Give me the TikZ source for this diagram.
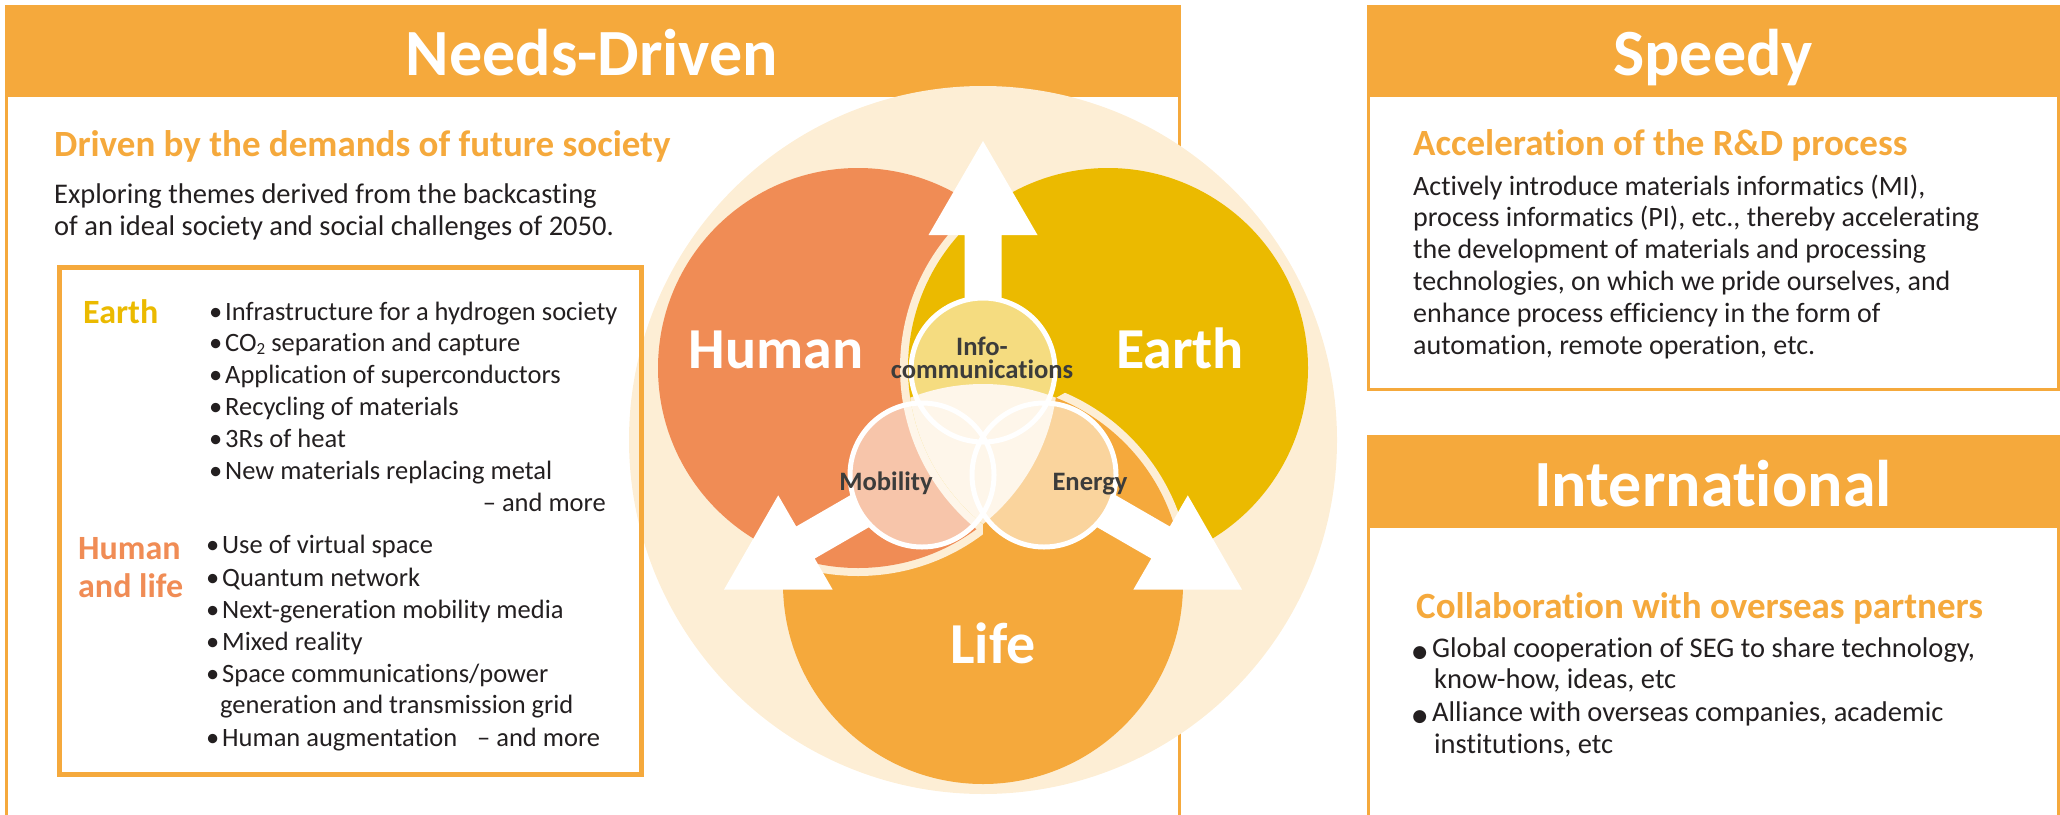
\documentclass[tikz,border=0pt]{standalone}
\usepackage{fontspec}
\setmainfont{Carlito}[Ligatures=NoCommon]
\newfontfamily\symfont{DejaVu Sans}

\definecolor{needsorange}{HTML}{F5A93C}
\definecolor{earthyellow}{HTML}{EBBA00}
\definecolor{humanorange}{HTML}{F08C55}
\definecolor{lifeorange}{HTML}{F5A93C}
\definecolor{halobeige}{HTML}{FDEED5}
\definecolor{bodyink}{HTML}{231F20}
\definecolor{labelink}{HTML}{3C3C3B}

\newcommand{\bul}{\llap{•\hspace{3pt}}}
\newcommand{\bigbul}{\llap{{\symfont\fontsize{17}{17}\selectfont ●}\hspace{5pt}}}

\tikzset{
  headtitle/.style={anchor=base, text=white, inner sep=0pt,
    font=\fontsize{66}{70}\selectfont\bfseries},
  subhead/.style={anchor=base west, text=needsorange, inner sep=0pt,
    font=\fontsize{37}{40}\selectfont\bfseries},
  bodyline/.style={anchor=base west, text=bodyink, inner sep=0pt,
    font=\fontsize{26.5}{30}\selectfont},
  bodywide/.style={bodyline, font=\fontsize{28.5}{30}\selectfont},
  topic/.style={anchor=base west, inner sep=0pt,
    font=\fontsize{34}{38}\selectfont\bfseries},
  bigword/.style={anchor=base, text=white, inner sep=0pt,
    font=\fontsize{58}{60}\selectfont\bfseries},
  smallword/.style={anchor=base, text=labelink, inner sep=0pt,
    font=\fontsize{26.6}{28}\selectfont\bfseries},
  panel/.style={draw=needsorange, line width=3pt},
}

\begin{document}
\begin{tikzpicture}[x=1pt,y=-1pt]
        \useasboundingbox (0,0) rectangle (2060,814);
        \clip (0,0) rectangle (2060,814);
        % panels
        \fill[needsorange] (5,5) rectangle (1181,97);
        \draw[panel] (6.5,6.5) rectangle (1179.5,840);
        \fill[needsorange] (1367,5) rectangle (2060,97);
        \draw[panel] (1368.5,6.5) rectangle (2058.5,389.5);
        \fill[needsorange] (1367,435) rectangle (2060,528);
        \draw[panel] (1368.5,436.5) rectangle (2058.5,840);

        % the three spheres
        \coordinate (hub) at (983,440);
        \coordinate (human) at (858,368);
        \coordinate (earth) at (1108,368);
        \coordinate (life) at (983,584);
        \coordinate (info) at (983,370);
        \coordinate (mobility) at (922,475);
        \coordinate (energy) at (1044,475);
        \fill[halobeige] (hub) circle (354);
        \fill[halobeige] (life) circle (208);
        \fill[lifeorange] (life) circle (200);
        \fill[halobeige] (human) circle (208);
        \fill[humanorange] (human) circle (200);
        \fill[halobeige] (earth) circle (208);
        \fill[earthyellow] (earth) circle (200);
        \begin{scope}
                \clip (hub) -- (983,900) -- (1500,900) -- (1500,142) -- cycle;
                \fill[halobeige] (life) circle (208);
                \fill[lifeorange] (life) circle (200);
        \end{scope}
        \begin{scope}
                \clip (human) circle (200);
                \clip (earth) circle (200);
                \fill[halobeige] (life) circle (200);
        \end{scope}

        % arrows
        \foreach \turn in {0,120,-120}
                \fill[white, shift={(hub)}, rotate=\turn] (-18.5,-141) -- (-18.5,-205) -- (-54.5,-205)
                        -- (0,-299) -- (54.5,-205) -- (18.5,-205) -- (18.5,-141) -- cycle;

        % small circles
        \fill[white, fill opacity=.5] (info) circle (72) (mobility) circle (72) (energy) circle (72);
        \draw[white, line width=5pt] (info) circle (72) (mobility) circle (72) (energy) circle (72);

        \node[bigword] (humanword) at (776,368) {Human};
        \node[bigword] (earthword) at (1180,368) {Earth};
        \node[bigword] (lifeword) at (993,663) {Life};
        \node[smallword] (infoword) at (982,355) {Info-};
        \node[smallword] (commword) at (982,378) {communications};
        \node[smallword] (mobword) at (886,490) {Mobility};
        \node[smallword] (energyword) at (1090,490) {Energy};

        % left panel
        \node[headtitle] (needs) at (592,75) {Needs-Driven};
        \node[subhead] (demand) at (54,156) {Driven by the demands of future society};
        \node[bodywide] (explore1) at (54,203) {Exploring themes derived from the backcasting};
        \node[bodywide] (explore2) at (54,235) {of an ideal society and social challenges of 2050.};
        \draw[needsorange, line width=5pt] (59.5,267.5) rectangle (641.5,774.5);
        \node[topic, text=earthyellow] (earthtopic) at (83,323) {Earth};
        \foreach \txt [count=\i] in {Infrastructure for a hydrogen society,
                CO\raisebox{-3pt}{\fontsize{17}{17}\selectfont 2} separation and capture,
                Application of superconductors, Recycling of materials, 3Rs of heat,
                New materials replacing metal}
                \node[bodyline] (earthitem\i) at (225,{288.2+31.8*\i}) {\bul\txt};
        \node[bodyline, anchor=base east] (earthmore) at (606,511) {– and more};
        \node[topic, text=humanorange] (humantopic) at (78,559) {Human};
        \node[topic, text=humanorange] (lifetopic) at (78,597) {and life};
        \foreach \txt/\y [count=\i] in {Use of virtual space/553, Quantum network/586,
                Next-generation mobility media/618, Mixed reality/650,
                Space communications\slash power/682, Human augmentation/746}
                \node[bodyline] (humanitem\i) at (222,\y) {\bul\txt};
        \node[bodyline] (spacecont) at (220,713) {generation and transmission grid};
        \node[bodyline] (humanmore) at (477,746) {– and more};

        % right panels
        \node[headtitle] (speedy) at (1713,75) {Speedy};
        \node[subhead] (accel) at (1413,155) {Acceleration of the R\&D process};
        \foreach \txt [count=\i] in {{Actively introduce materials informatics (MI),},
                {process informatics (PI), etc., thereby accelerating},
                {the development of materials and processing},
                {technologies, on which we pride ourselves, and},
                {enhance process efficiency in the form of},
                {automation, remote operation, etc.}}
                \node[bodywide, font=\fontsize{28}{30}\selectfont] (speedline\i) at (1413,{163.2+31.8*\i}) {\txt};
        \node[headtitle] (intl) at (1713,506) {International};
        \node[subhead] (collab) at (1416,618) {Collaboration with overseas partners};
        \node[bodywide] (intl1) at (1432,657) {\bigbul Global cooperation of SEG to share technology,};
        \node[bodywide] (intl2) at (1434,688) {know-how, ideas, etc};
        \node[bodywide] (intl3) at (1432,721) {\bigbul Alliance with overseas companies, academic};
        \node[bodywide] (intl4) at (1434,753) {institutions, etc};
\end{tikzpicture}
\end{document}
